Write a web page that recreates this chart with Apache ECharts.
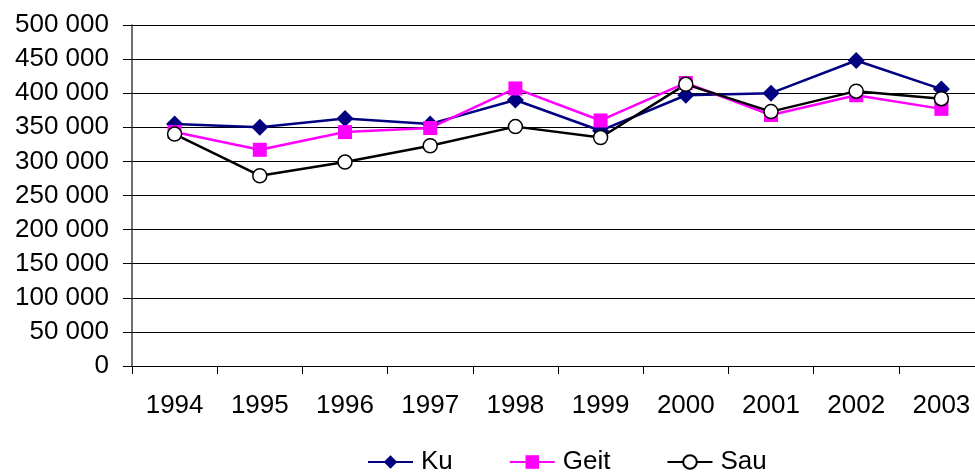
<!DOCTYPE html>
<html>
<head>
<meta charset="utf-8">
<script src="https://cdn.jsdelivr.net/npm/echarts@6/dist/echarts.min.js"></script>
<style>
  html, body { margin: 0; padding: 0; background: #fff; }
  #chart { width: 975px; height: 475px; }
</style>
</head>
<body>
<div id="chart"></div>
<script>
// år og verdiar lesne av biletet
const years = ['1994', '1995', '1996', '1997', '1998', '1999', '2000', '2001', '2002', '2003']
const ku = [355000, 350000, 363000, 355000, 390000, 345000, 397000, 400000, 448000, 406000]
const geit = [343000, 317000, 343000, 349000, 407000, 360000, 415000, 368000, 397000, 377000]
const sau = [340000, 279000, 299000, 323000, 351000, 335000, 413000, 373000, 403000, 392000]

const font = 'Liberation Sans, Arial, sans-serif'

const fmt = function (v) {
  return String(v).replace(/\B(?=(\d{3})+(?!\d))/g, ' ')
}

const chart = echarts.init(document.getElementById('chart'))
chart.setOption({
  animation: false,
  textStyle: { fontFamily: font },
  grid: { left: 132, right: -9, top: 25, bottom: 109, containLabel: false, outerBoundsMode: 'none' },
  legend: {
    top: 449,
    left: 367,
    itemWidth: 45,
    itemHeight: 17,
    itemGap: 56,
    padding: 0,
    textStyle: { fontSize: 26, color: '#000', fontFamily: font, padding: [0, 0, 0, 3] },
    data: ['Ku', 'Geit', 'Sau']
  },
  xAxis: {
    type: 'category',
    data: years,
    boundaryGap: true,
    axisLine: { lineStyle: { color: '#000', width: 1 } },
    axisTick: { show: true, length: 8, lineStyle: { color: '#000' } },
    axisLabel: { fontSize: 26, color: '#000', margin: 27, fontFamily: font }
  },
  yAxis: {
    type: 'value',
    min: 0,
    max: 500000,
    interval: 50000,
    axisLine: { show: true, lineStyle: { color: '#404040', width: 1.5 } },
    axisTick: { show: true, length: 9, lineStyle: { color: '#000' } },
    axisLabel: { fontSize: 26, color: '#000', margin: 23, fontFamily: font, formatter: fmt },
    splitLine: { lineStyle: { color: '#000', width: 1 } }
  },
  series: [
    {
      name: 'Ku',
      type: 'line',
      data: ku,
      symbol: 'diamond',
      symbolSize: 17,
      lineStyle: { color: '#000080', width: 2.5 },
      itemStyle: { color: '#000080' }
    },
    {
      name: 'Geit',
      type: 'line',
      data: geit,
      symbol: 'rect',
      symbolSize: 14,
      lineStyle: { color: '#ff00ff', width: 2.5 },
      itemStyle: { color: '#ff00ff' }
    },
    {
      name: 'Sau',
      type: 'line',
      data: sau,
      symbol: 'circle',
      symbolSize: 14,
      lineStyle: { color: '#000', width: 2.5 },
      itemStyle: { color: '#fff', borderColor: '#000', borderWidth: 1.5 }
    }
  ]
})
</script>
</body>
</html>
